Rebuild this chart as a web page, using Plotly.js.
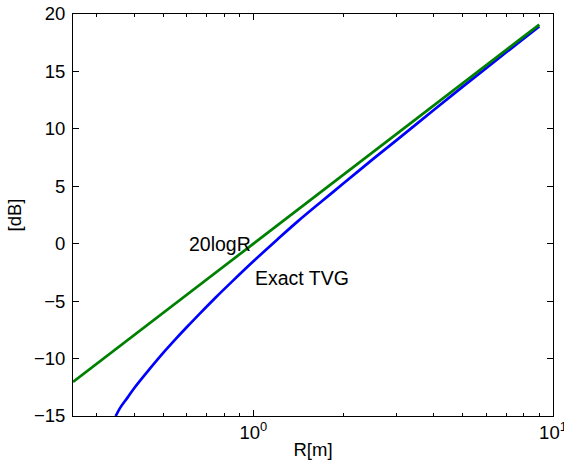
<!DOCTYPE html>
<html>
<head>
<meta charset="utf-8">
<script src="https://cdn.plot.ly/plotly-3.0.1.min.js"></script>
<style>html,body{margin:0;padding:0;background:#fff;}#chart{width:564px;height:464px;}</style>
</head>
<body>
<div id="chart"></div>
<script>
// 20logR curve
const rGreen = [0.25, 0.3, 0.4, 0.5, 0.6, 0.8, 1, 1.5, 2, 3, 4, 5, 6, 7, 8, 9];
const dbGreen = [-12.04, -10.46, -7.96, -6.02, -4.44, -1.94, 0, 3.52, 6.02, 9.54, 12.04, 13.98, 15.56, 16.90, 18.06, 19.08];

// Exact TVG curve
const rBlue = [0.347, 0.36, 0.38, 0.4, 0.45, 0.5, 0.55, 0.6, 0.66, 0.75, 0.85, 1.0, 1.2, 1.4, 1.7, 2.0, 2.5, 3, 4, 5, 6, 7, 8, 9];
const dbBlue = [-15, -14.25, -13.4, -12.58, -10.92, -9.5, -8.3, -7.25, -6.13, -4.66, -3.28, -1.53, 0.35, 1.9, 3.74, 5.26, 7.34, 9.0, 11.64, 13.68, 15.31, 16.69, 17.88, 18.92];

const yTicks = [-15, -10, -5, 0, 5, 10, 15, 20];
const xTickVals = [1, 10];
const xTickText = ['10<sup>0</sup>', '10<sup>1</sup>'];
const xMinorVals = [0.3, 0.4, 0.5, 0.6, 0.7, 0.8, 0.9, 2, 3, 4, 5, 6, 7, 8, 9];

const labels = [
  {text: '20logR', r: 0.6, db: 0},
  {text: 'Exact TVG', r: 1.0, db: -3}
];

const font = 'Arial, "Liberation Sans", sans-serif';

const traces = [
  {x: rBlue, y: dbBlue, type: 'scatter', mode: 'lines', line: {color: '#0000ff', width: 2.7, shape: 'spline', smoothing: 1}, showlegend: false},
  {x: rGreen, y: dbGreen, type: 'scatter', mode: 'lines', line: {color: '#008000', width: 2.7}, showlegend: false}
];

const layout = {
  width: 564, height: 464,
  margin: {l: 73, r: 11, t: 14, b: 48, pad: 0},
  paper_bgcolor: '#fff', plot_bgcolor: '#fff',
  font: {family: font, size: 18.5, color: '#000'},
  showlegend: false,
  xaxis: {
    type: 'log', range: [Math.log10(0.25), 1],
    tickmode: 'array', tickvals: xTickVals, ticktext: xTickText,
    ticks: 'inside', ticklen: 6, tickwidth: 1, tickcolor: '#000',
    minor: {tickmode: 'array', tickvals: xMinorVals, ticks: 'inside', ticklen: 3, tickcolor: '#000', showgrid: false},
    showline: true, linecolor: '#000', linewidth: 1, mirror: 'ticks',
    showgrid: false, zeroline: false,
    ticklabeloverflow: 'allow',
    title: {text: 'R[m]', font: {size: 18.5}, standoff: 0},
    tickfont: {size: 18.5}
  },
  yaxis: {
    range: [-15, 20],
    tickmode: 'array', tickvals: yTicks,
    ticks: 'inside', ticklen: 6, tickwidth: 1, tickcolor: '#000',
    showline: true, linecolor: '#000', linewidth: 1, mirror: 'ticks',
    showgrid: false, zeroline: false,
    title: {text: '[dB]', font: {size: 18.5}, standoff: 7},
    tickfont: {size: 18.5},
    ticklabelstandoff: 3
  },
  annotations: labels.map(l => ({
    x: Math.log10(l.r), y: l.db, xref: 'x', yref: 'y',
    text: l.text, showarrow: false, xanchor: 'left', yanchor: 'middle',
    font: {size: 19.5, family: font, color: '#000'}
  }))
};

Plotly.newPlot('chart', traces, layout, {displayModeBar: false, staticPlot: true});
</script>
</body>
</html>
